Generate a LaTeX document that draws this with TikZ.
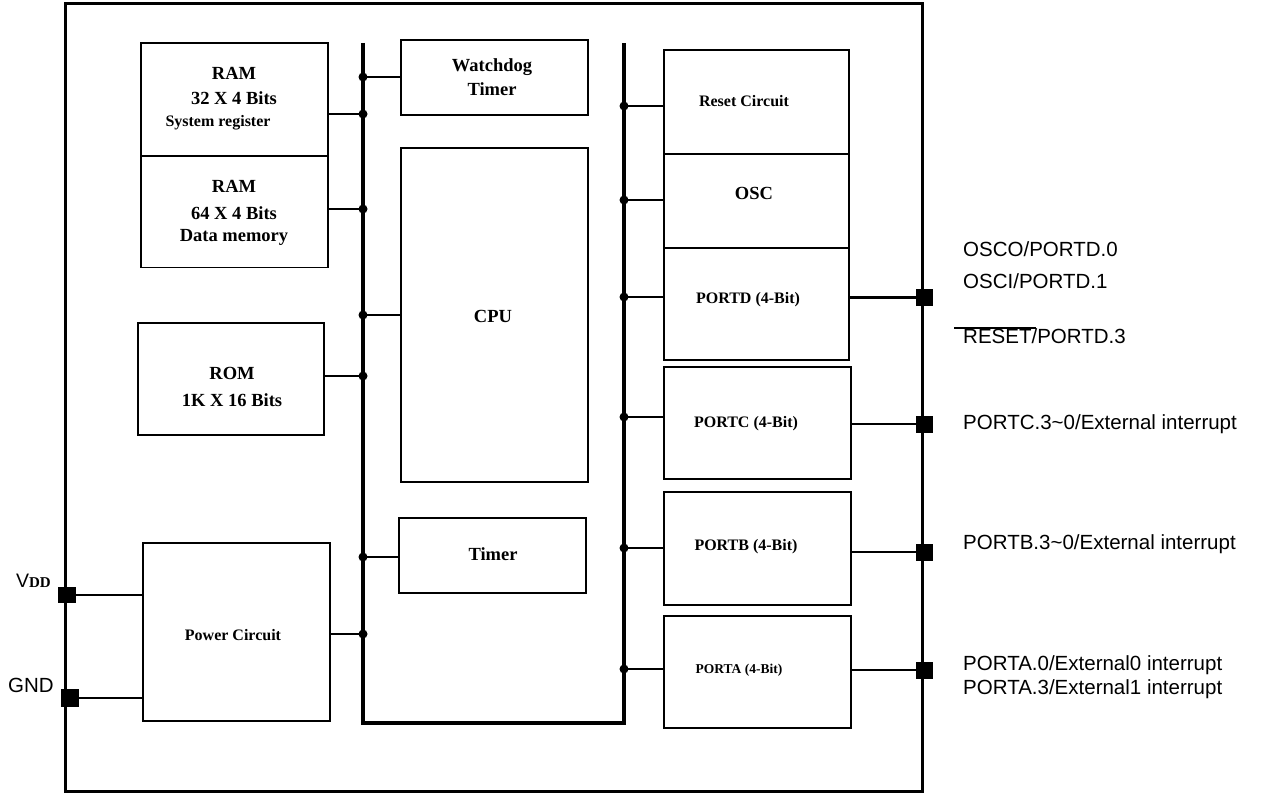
\documentclass[tikz,border=0pt]{standalone}
\usepackage{fontspec}
\setmainfont{Liberation Serif}
\newfontfamily\arial{Liberation Sans}
\begin{document}
\begin{tikzpicture}[x=1pt,y=-1pt,
  blk/.style={draw, line width=1.8pt, inner sep=0pt},
  txt/.style={font=\bfseries\fontsize{18.5}{25}\selectfont, inner sep=0pt, anchor=base},
  stxt/.style={font=\bfseries\fontsize{16}{22}\selectfont, inner sep=0pt, anchor=base},
  ptxt/.style={font=\bfseries\fontsize{13.5}{16}\selectfont, inner sep=0pt, anchor=base},
  lbl/.style={font=\arial\fontsize{20.5}{24}\selectfont, anchor=base west, inner sep=0pt},
  dot/.style={circle, fill, inner sep=0pt, minimum size=9pt},
  pin/.style={fill, inner sep=0pt, minimum size=17pt},
  bus/.style={line width=3.2pt},
  wire/.style={line width=1.6pt},
  owire/.style={line width=2.6pt}]
\useasboundingbox (0,0) rectangle (1265,794);
% outer border
\draw[line width=3pt] (65,4) rectangle (922,791);
% bus
\coordinate (busTL) at (363,43);
\coordinate (busBL) at (363,723);
\coordinate (busBR) at (624,723);
\coordinate (busTR) at (624,43);
\draw[bus] (busTL) -- (busBL) -- (busBR) -- (busTR);
% left blocks
\node[blk, minimum width=187pt, minimum height=113pt] (ram1) at (234.5,99.5) {};
\node[blk, minimum width=187pt, minimum height=111pt] (ram2) at (234.5,212) {};
\node[blk, minimum width=186pt, minimum height=112pt] (rom) at (231,379) {};
\node[blk, minimum width=187pt, minimum height=178pt] (pwr) at (236.5,632) {};
% middle blocks
\node[blk, minimum width=187pt, minimum height=75pt] (wdt) at (494.5,77.5) {};
\node[blk, minimum width=187pt, minimum height=334pt] (cpu) at (494.5,315) {};
\node[blk, minimum width=187pt, minimum height=75pt] (tmr) at (492.5,555.5) {};
% right blocks
\node[blk, minimum width=185pt, minimum height=104pt] (rst) at (756.5,102) {};
\node[blk, minimum width=185pt, minimum height=94pt] (osc) at (756.5,201) {};
\node[blk, minimum width=185pt, minimum height=112pt] (pd) at (756.5,304) {};
\node[blk, minimum width=187pt, minimum height=112pt] (pc) at (757.5,423) {};
\node[blk, minimum width=187pt, minimum height=113pt] (pb) at (757.5,548.5) {};
\node[blk, minimum width=187pt, minimum height=112pt] (pa) at (757.5,672) {};
% texts
\node[txt] (ram1a) at (234,80) {RAM};
\node[txt] (ram1b) at (234,105) {32 X 4 Bits};
\node[stxt] (ram1c) at (218,127) {System register};
\node[txt] (ram2a) at (234,193) {RAM};
\node[txt] (ram2b) at (234,220) {64 X 4 Bits};
\node[txt] (ram2c) at (234,241) {Data memory};
\node[txt] (roma) at (232,379) {ROM};
\node[txt] (romb) at (232,406) {1K X 16 Bits};
\node[stxt] (pwrt) at (233,640) {Power Circuit};
\node[txt] (wdta) at (492,72) {Watchdog};
\node[txt] (wdtb) at (492,96) {Timer};
\node[txt] (cput) at (493,322) {CPU};
\node[txt] (tmrt) at (493,560) {Timer};
\node[stxt] (rstt) at (744,107) {Reset Circuit};
\node[txt] (osct) at (754,200) {OSC};
\node[stxt] (pdt) at (748,303) {PORTD (4-Bit)};
\node[stxt] (pct) at (746,427) {PORTC (4-Bit)};
\node[stxt] (pbt) at (746,550) {PORTB (4-Bit)};
\node[ptxt] (pat) at (739,673) {PORTA (4-Bit)};
% left bus connections
\foreach \n/\y/\b/\s in {l1/77/wdt/west, l2/114/ram1/east, l3/209/ram2/east, l4/315/cpu/west, l5/376/rom/east, l6/557/tmr/west, l7/634/pwr/east}{
  \coordinate (d\n) at (363,\y);
  \draw[wire] (d\n) -- (\b.\s |- d\n);
  \node[dot] (dot\n) at (d\n) {};
}
% right bus connections
\foreach \n/\y/\b in {r1/106/rst, r2/200/osc, r3/297/pd, r4/417/pc, r5/548/pb, r6/669/pa}{
  \coordinate (d\n) at (624,\y);
  \draw[wire] (d\n) -- (\b.west |- d\n);
  \node[dot] (dot\n) at (d\n) {};
}
% output pins
\node[pin] (pinD) at (924.5,297.5) {};
\node[pin] (pinC) at (924.5,424) {};
\node[pin] (pinB) at (924.5,552) {};
\node[pin] (pinA) at (924.5,670) {};
\draw[owire] (pd.east |- pinD) -- (pinD);
\draw[owire] (pc.east |- pinC) -- (pinC);
\draw[owire] (pb.east |- pinB) -- (pinB);
\draw[owire] (pa.east |- pinA) -- (pinA);
% power pins
\node[pin, minimum width=18pt, minimum height=16pt] (pinV) at (67,595) {};
\node[pin, minimum width=18pt, minimum height=18pt] (pinG) at (70,698) {};
\draw[owire] (pinV) -- (pwr.west |- pinV);
\draw[owire] (pinG) -- (pwr.west |- pinG);
% labels
\node[inner sep=0pt, anchor=base east] (vddl) at (51,587) {{\arial\fontsize{19.5}{19.5}\selectfont V}{\bfseries\fontsize{15}{15}\selectfont DD}};
\node[lbl] (gndl) at (8,692) {GND};
\node[lbl] (l1) at (963,257) {OSCO/PORTD.0};
\node[lbl] (l2) at (963,288) {OSCI/PORTD.1};
\node[lbl] (l3) at (963,343) {RESET/PORTD.3};
\coordinate (ovA) at (954,328);
\coordinate (ovB) at (1036,328);
\draw[line width=1.3pt] (ovA) -- (ovB);
\node[lbl] (l4) at (963,429) {PORTC.3\char`\~0/External interrupt};
\node[lbl] (l5) at (963,549) {PORTB.3\char`\~0/External interrupt};
\node[lbl] (l6) at (963,670) {PORTA.0/External0 interrupt};
\node[lbl] (l7) at (963,694) {PORTA.3/External1 interrupt};
\end{tikzpicture}
\end{document}
